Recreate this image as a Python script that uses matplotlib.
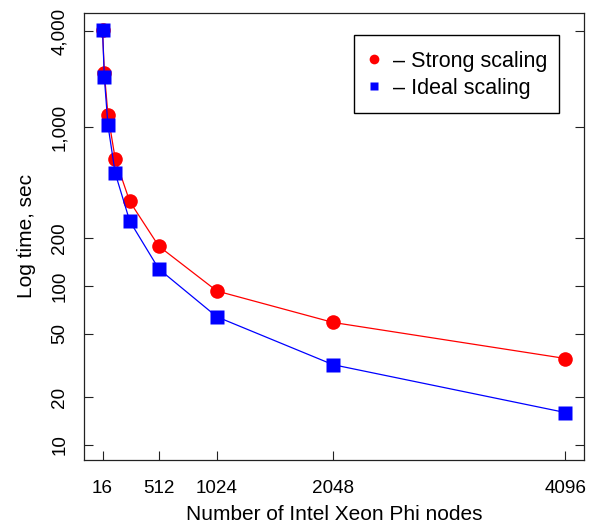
import matplotlib
matplotlib.use('Agg')
import matplotlib.pyplot as plt
from matplotlib.ticker import FixedLocator, NullLocator, FixedFormatter
from matplotlib.lines import Line2D
from matplotlib.patches import Rectangle

nodes = [16, 32, 64, 128, 256, 512, 1024, 2048, 4096]
strong = [4096, 2200, 1190, 630, 340, 178, 93, 59, 35]
ideal = [4096, 2048, 1024, 512, 256, 128, 64, 32, 16]
x_ticks = [16, 512, 1024, 2048, 4096]
x_tick_labels = ["16", "512", "1024", "2048", "4096"]
y_ticks = [10, 20, 50, 100, 200, 1000, 4000]
y_tick_labels = ["10", "20", "50", "100", "200", "1,000", "4,000"]
series_labels = ["\u2013 Strong scaling", "\u2013 Ideal scaling"]

plt.rcParams['font.family'] = ['Liberation Sans', 'DejaVu Sans']
fig = plt.figure(figsize=(5.9, 5.3), dpi=100)
ax = fig.add_axes([84/590, 1-460/530, 500/590, 447/530])

ax.plot(nodes, strong, color='#ff0000', lw=0.9, marker='o', ms=10.5, mec='none', zorder=3)
ax.plot(nodes, ideal, color='#0000ff', lw=0.9, marker='s', ms=10, mec='none', zorder=4)

ax.set_yscale('log')
ax.set_xlim(-147.2, 4259.2)
ax.set_ylim(8.05, 5210)

ax.xaxis.set_major_locator(FixedLocator(x_ticks))
ax.xaxis.set_major_formatter(FixedFormatter(x_tick_labels))
ax.xaxis.set_minor_locator(NullLocator())
ax.yaxis.set_major_locator(FixedLocator(y_ticks))
ax.yaxis.set_major_formatter(FixedFormatter(y_tick_labels))
ax.yaxis.set_minor_locator(NullLocator())

ax.tick_params(axis='both', direction='in', length=6.5, width=0.8, labelsize=13.6, color='#222222')
ax.tick_params(axis='x', pad=14.5)
ax.tick_params(axis='y', pad=11.3, right=True, labelright=False)
for lab in ax.get_yticklabels():
    lab.set_rotation(90)
    lab.set_va('center')

for sp in ax.spines.values():
    sp.set_linewidth(0.9)
    sp.set_color('#222222')

ax.set_xlabel("Number of Intel Xeon Phi nodes", fontsize=15, labelpad=6)
ax.set_ylabel("Log time, sec", fontsize=15, labelpad=11)

# legend frame drawn separately to match the wide vertical padding
frame = Rectangle(((354-84)/500, (460-112.7)/447), (558.5-354)/500, (112.7-35)/447,
                  transform=ax.transAxes, facecolor='white', edgecolor='black',
                  lw=1.0, zorder=4.5)
ax.add_patch(frame)

handles = [
    Line2D([], [], color='#ff0000', marker='o', ls='none', ms=7, mec='none'),
    Line2D([], [], color='#0000ff', marker='s', ms=6, ls='none', mec='none'),
]
fs_px = 15.5 * 100 / 72
hl = 1.06
leg = ax.legend(handles, series_labels, loc='center left',
                bbox_to_anchor=((374 - hl*fs_px/2 - 84)/500, (460-75)/447),
                borderaxespad=0, fontsize=15.5, frameon=False,
                handlelength=hl, handletextpad=0.35, borderpad=0.0,
                labelspacing=0.28)
leg.set_zorder(6)

fig.savefig('out.png', dpi=100)
